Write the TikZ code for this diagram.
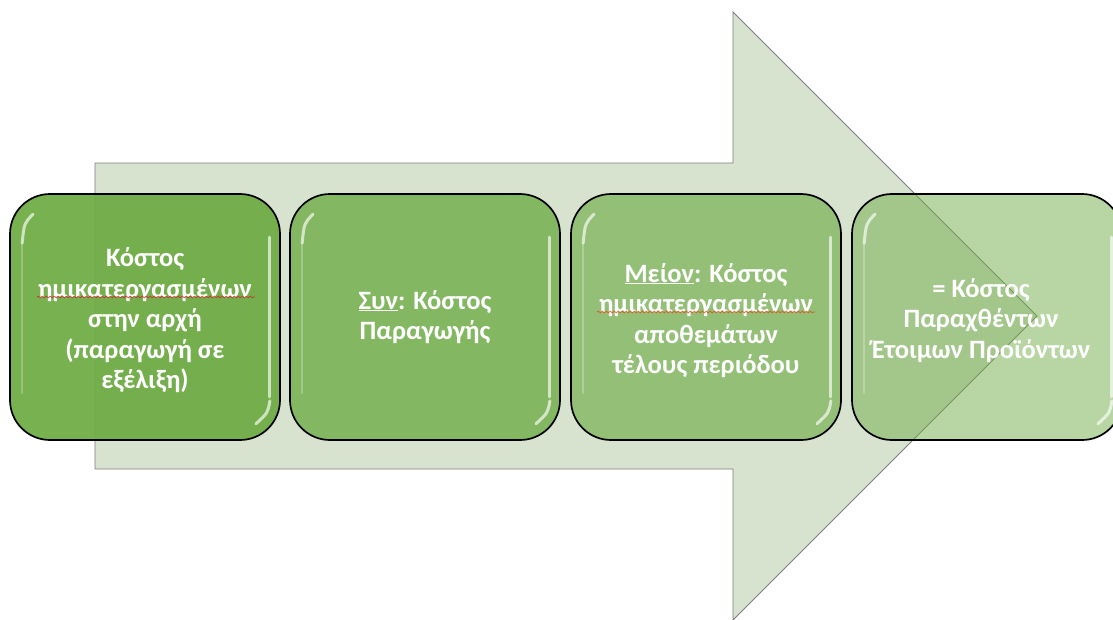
\documentclass[tikz,border=0pt]{standalone}
\usepackage{fontspec}
\setmainfont{Carlito}
\usetikzlibrary{calc,decorations.pathmorphing}

\definecolor{arrowfill}{RGB}{215,227,207}
\definecolor{arrowedge}{RGB}{125,125,125}
\definecolor{stepgreen}{RGB}{112,173,71}
\definecolor{spellred}{RGB}{205,40,40}

\newcommand\ul[1]{\underline{\smash{#1}}}
% taller first line: pushes a text block a little down in its box
\newcommand\topstrut{\rule{0pt}{26pt}}

\begin{document}
\begin{tikzpicture}[x=1pt,y=-1pt,
  stepbox/.style={rounded corners=40pt, minimum width=270pt, minimum height=246pt,
    draw=black, line width=1.7pt, fill=stepgreen, text=white, text opacity=1,
    font=\bfseries\fontsize{26.5}{30.5}\selectfont, align=center, inner sep=0pt},
  glint/.style={white, line width=3pt, line cap=round, opacity=0.65},
  faintglint/.style={white, line width=2.4pt, line cap=round, opacity=0.25},
  spellmark/.style={spellred, line width=0.8pt, opacity=0.8,
    decorate, decoration={snake, amplitude=0.8pt, segment length=4pt}}]

\clip (0,0) rectangle (1113,619);

% large flow arrow behind the steps
\draw[fill=arrowfill, draw=arrowedge, line width=0.9pt]
  (95,163) -- (733,163) -- (733,12) -- (1037,316) -- (733,620)
  -- (733,469) -- (95,469) -- cycle;

% steps
\node[stepbox, fill opacity=0.95] (b1) at (145,317)
  {\topstrut Κόστος\\ημικατεργασμένων\\στην αρχή\\(παραγωγή σε\\εξέλιξη)};
\node[stepbox, fill opacity=0.8] (b2) at (425,317)
  {\ul{Συν}: Κόστος\\Παραγωγής};
\node[stepbox, fill opacity=0.65] (b3) at (706,317)
  {\topstrut\ul{Μείον}: Κόστος\\ημικατεργασμένων\\αποθεμάτων\\τέλους περιόδου};
\node[stepbox, fill opacity=0.5] (b4) at (987,317)
  {\topstrut\hspace*{-12pt}= Κόστος\\\hspace*{-12pt}Παραχθέντων\\\hspace*{-12pt}Έτοιμων Προϊόντων};

% spell-check marks under the long word
\coordinate (s1a) at (37,297);  \coordinate (s1b) at (255,297);
\coordinate (s3a) at (597,312); \coordinate (s3b) at (815,312);
\draw[spellmark] (s1a) -- (s1b);
\draw[spellmark, spellred!60!orange] (s3a) -- (s3b);

% glossy edge highlights
\foreach \b in {b1,b2,b3,b4}{
  \draw[glint] ($(\b.north west)+(24,21)$) .. controls ($(\b.north west)+(15,30)$) .. ($(\b.north west)+(13,50)$);
  \draw[faintglint] ($(\b.north west)+(13,50)$) -- ($(\b.south west)+(13,-48)$);
  \draw[glint] ($(\b.north east)+(-11,44)$) -- ($(\b.south east)+(-11,-44)$);
  \draw[glint] ($(\b.south east)+(-11,-40)$) .. controls ($(\b.south east)+(-13,-28)$) .. ($(\b.south east)+(-25,-17)$);
}
\end{tikzpicture}
\end{document}
